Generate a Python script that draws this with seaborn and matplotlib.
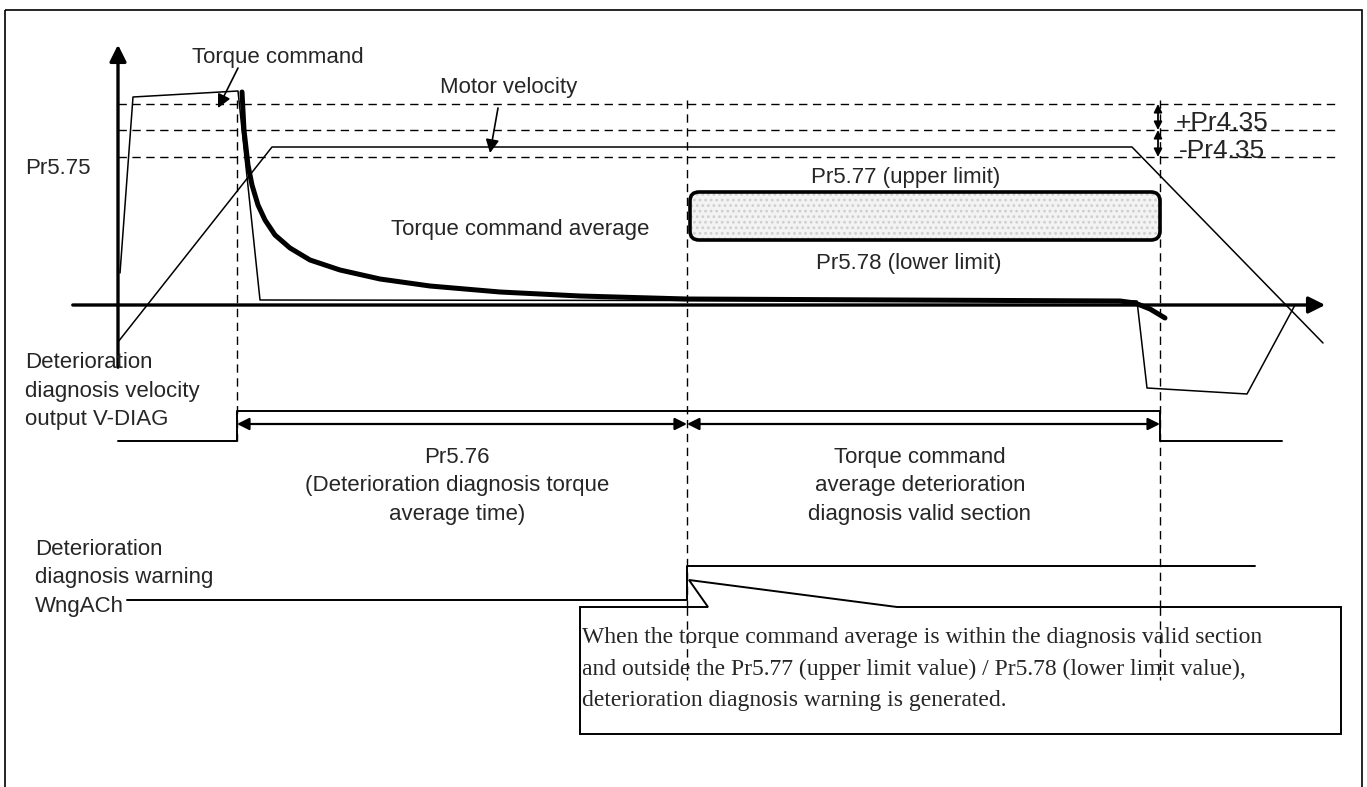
import numpy as np
import pandas as pd
import matplotlib
matplotlib.use("Agg")
import matplotlib.pyplot as plt
import seaborn as sns
from matplotlib.patches import FancyBboxPatch, Rectangle

# --- signal traces (diagram units = pixel grid of the original sheet) ---
torque_x = [120, 133, 238, 260, 1137, 1147, 1247, 1295]
torque_y = [273, 97, 91, 300, 301, 388, 394, 305]

velocity_x = [118, 272, 1132, 1323]
velocity_y = [342, 147, 147, 343]

avg_x = [242, 244, 248, 252, 258, 265, 275, 290, 310, 340, 380, 430, 500, 580, 687, 900, 1120, 1135, 1150, 1165]
avg_y = [92, 130, 165, 185, 205, 220, 235, 248, 260, 270, 279, 286, 292, 296, 299, 300, 301, 303, 309, 318]

vdiag_x = [118, 237, 237, 1160, 1160, 1282]
vdiag_y = [441, 441, 411, 411, 441, 441]

wng_x = [127, 687, 687, 1255]
wng_y = [600, 600, 566, 566]

# thresholds and section boundaries
level_y = [104, 130, 157]
section_x = [237, 687, 1160]


def main():
    sns.set_style("white")
    plt.rcParams['font.family'] = ['Liberation Sans', 'DejaVu Sans']
    plt.rcParams['hatch.linewidth'] = 1.2

    fig = plt.figure(figsize=(13.67, 7.87), dpi=100)
    ax = fig.add_axes([0, 0, 1, 1])
    ax.set_xlim(0, 1367)
    ax.set_ylim(787, 0)
    ax.axis('off')

    # outer frame
    ax.add_patch(Rectangle((5, 10), 1357, 800, fill=False, lw=1.2, ec='k'))

    # dashed reference levels and section markers
    dash = (0, (6, 4))
    for y in level_y:
        ax.plot([118, 1340], [y, y], ls=dash, color='k', lw=1)
    ax.plot([section_x[0]] * 2, [100, 441], ls=dash, color='k', lw=1)
    ax.plot([section_x[1]] * 2, [100, 680], ls=dash, color='k', lw=1)
    ax.plot([section_x[2]] * 2, [100, 680], ls=dash, color='k', lw=1)

    # main axes with arrows
    ax.annotate('', xy=(118, 42), xytext=(118, 370),
                arrowprops=dict(arrowstyle='-|>', lw=2.4, color='k', mutation_scale=25))
    ax.annotate('', xy=(1328, 305), xytext=(70, 305),
                arrowprops=dict(arrowstyle='-|>', lw=2.4, color='k', mutation_scale=25))

    # traces
    sns.lineplot(x=torque_x, y=torque_y, sort=False, estimator=None, color='k', lw=1.1, ax=ax)
    sns.lineplot(x=velocity_x, y=velocity_y, sort=False, estimator=None, color='k', lw=1.1, ax=ax)
    sns.lineplot(x=avg_x, y=avg_y, sort=False, estimator=None, color='k', lw=3.6, ax=ax)
    sns.lineplot(x=vdiag_x, y=vdiag_y, sort=False, estimator=None, color='k', lw=1.4, ax=ax)
    sns.lineplot(x=wng_x, y=wng_y, sort=False, estimator=None, color='k', lw=1.4, ax=ax)

    # upper / lower limit band
    ax.add_patch(FancyBboxPatch((690, 192), 470, 48, boxstyle='round,pad=0,rounding_size=9',
                                fc='#f3f3f3', ec='#cfcfcf', hatch='...', lw=0))
    ax.add_patch(FancyBboxPatch((690, 192), 470, 48, boxstyle='round,pad=0,rounding_size=9',
                                fill=False, ec='k', lw=2.6))

    # timing arrows
    dbl = dict(arrowstyle='<|-|>', lw=1.6, color='k', mutation_scale=18, shrinkA=0, shrinkB=0)
    ax.annotate('', xy=(237, 424), xytext=(687, 424), arrowprops=dbl)
    ax.annotate('', xy=(687, 424), xytext=(1160, 424), arrowprops=dbl)
    small = dict(arrowstyle='<|-|>', lw=1.3, color='k', mutation_scale=12, shrinkA=0, shrinkB=0)
    ax.annotate('', xy=(1158, 104), xytext=(1158, 130), arrowprops=small)
    ax.annotate('', xy=(1158, 130), xytext=(1158, 157), arrowprops=small)

    # pointer arrows for labels
    ptr = dict(arrowstyle='-|>', lw=1.2, color='k', mutation_scale=20, shrinkA=0, shrinkB=0)
    ax.annotate('', xy=(218, 108), xytext=(238, 68), arrowprops=ptr)
    ax.annotate('', xy=(490, 153), xytext=(498, 108), arrowprops=ptr)

    # labels
    fs = 16
    ls = 1.45
    ax.text(278, 57, 'Torque command', fontsize=fs, ha='center', va='center')
    ax.text(509, 88, 'Motor velocity', fontsize=fs, ha='center', va='center')
    ax.text(25, 168, 'Pr5.75', fontsize=fs, ha='left', va='center')
    ax.text(1176, 123, '+Pr4.35', fontsize=19, ha='left', va='center')
    ax.text(1179, 151, '-Pr4.35', fontsize=19, ha='left', va='center')
    ax.text(906, 178, 'Pr5.77 (upper limit)', fontsize=fs, ha='center', va='center')
    ax.text(909, 264, 'Pr5.78 (lower limit)', fontsize=fs, ha='center', va='center')
    ax.text(520, 230, 'Torque command average', fontsize=fs, ha='center', va='center')
    ax.text(25, 391, 'Deterioration\ndiagnosis velocity\noutput V-DIAG', fontsize=fs,
            ha='left', va='center', linespacing=ls)
    ax.text(457, 486, 'Pr5.76\n(Deterioration diagnosis torque\naverage time)', fontsize=fs,
            ha='center', va='center', linespacing=ls)
    ax.text(920, 486, 'Torque command\naverage deterioration\ndiagnosis valid section', fontsize=fs,
            ha='center', va='center', linespacing=ls)
    ax.text(35, 578, 'Deterioration\ndiagnosis warning\nWngACh', fontsize=fs,
            ha='left', va='center', linespacing=ls)

    # callout box
    callout_x = [708, 580, 580, 1341, 1341, 897, 689, 708]
    callout_y = [607, 607, 734, 734, 607, 607, 580, 607]
    ax.fill(callout_x, callout_y, fc='white', ec='k', lw=1.4, zorder=3)
    ax.plot([section_x[1]] * 2, [607, 680], ls=dash, color='k', lw=1, zorder=4)
    ax.plot([section_x[2]] * 2, [607, 680], ls=dash, color='k', lw=1, zorder=4)
    ax.text(582, 669, 'When the torque command average is within the diagnosis valid section\n'
            'and outside the Pr5.77 (upper limit value) / Pr5.78 (lower limit value),\n'
            'deterioration diagnosis warning is generated.',
            family=['Liberation Serif', 'DejaVu Serif'], fontsize=17, ha='left', va='center',
            linespacing=1.65, zorder=5)

    fig.savefig('out.png', dpi=100)
    plt.close(fig)


if __name__ == '__main__':
    main()
